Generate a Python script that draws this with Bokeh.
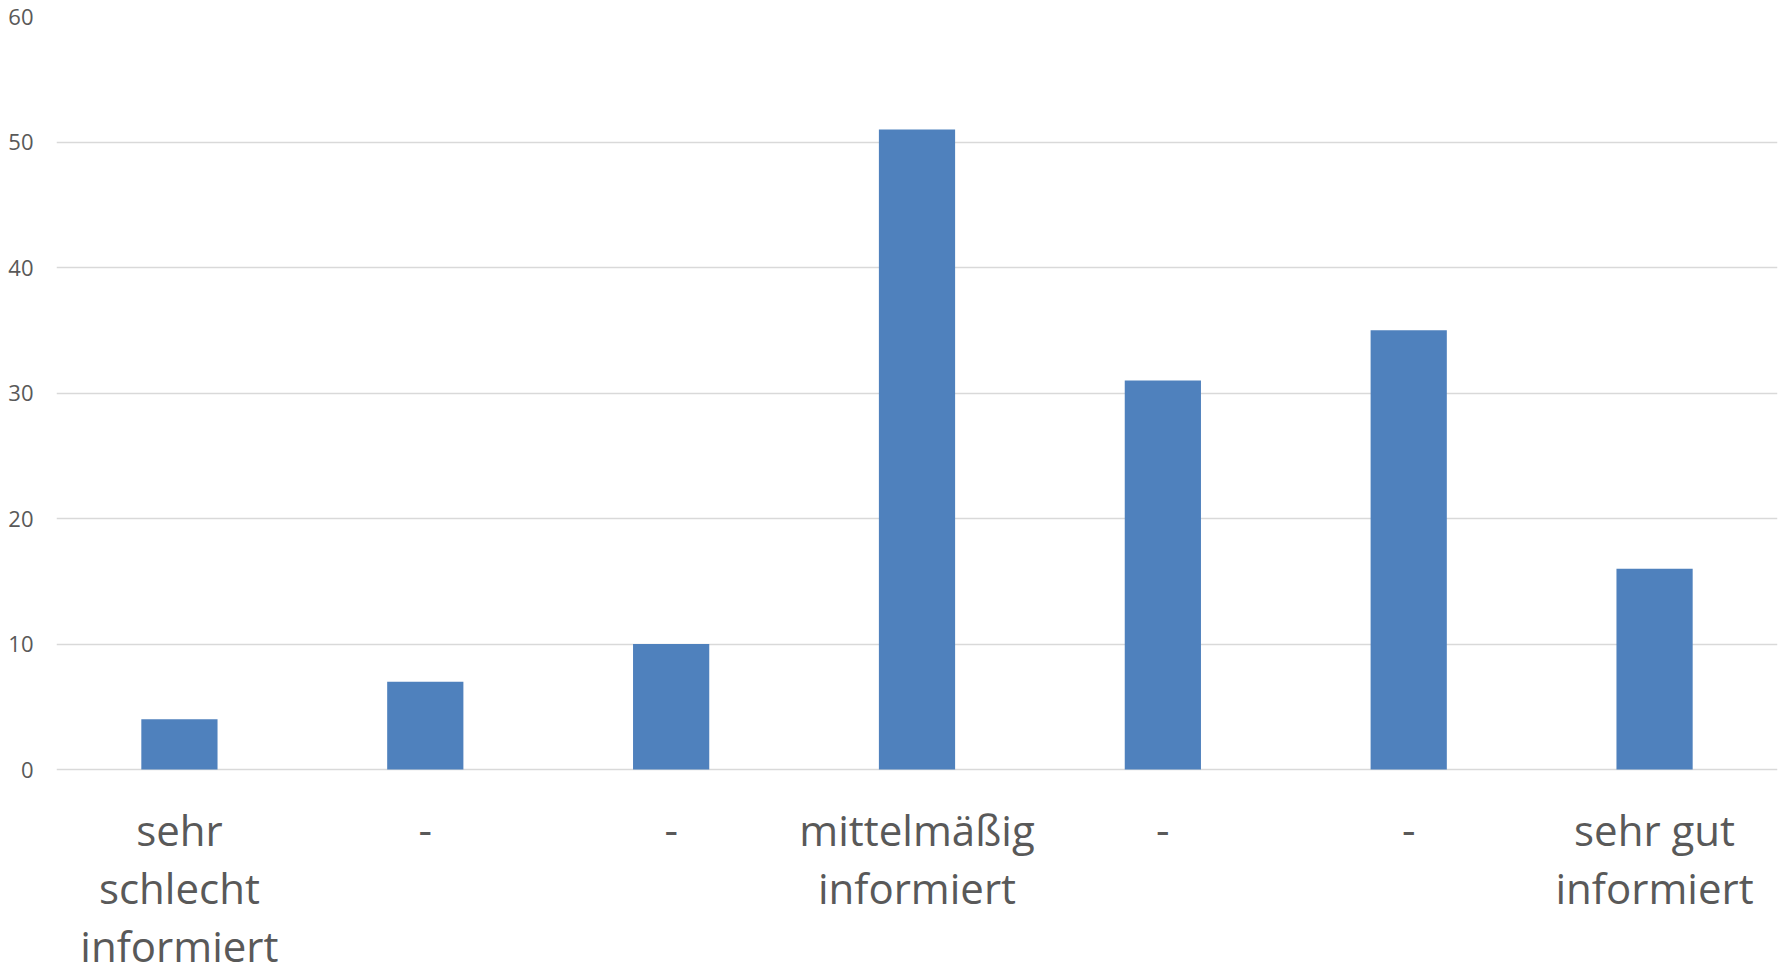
from bokeh.plotting import figure
from bokeh.models import Range1d, FixedTicker, ColumnDataSource
from bokeh.core.properties import value
from bokeh.embed import file_html
from bokeh.resources import INLINE

# Survey: how well informed respondents feel (7-point scale)
categories = ["sehr\nschlecht\ninformiert", "-", "-", "mittelmäßig\ninformiert", "-", "-", "sehr gut\ninformiert"]
counts = [4, 7, 10, 51, 31, 35, 16]
y_ticks = [0, 10, 20, 30, 40, 50, 60]

positions = list(range(len(categories)))
source = ColumnDataSource(data=dict(x=positions, top=counts))

# vertical layout (pixels): plot top, zero line, canvas bottom
H = 968
top_px, zero_px = 16, 769
y_max = 60
px_per_unit = (zero_px - top_px) / y_max
y_min = -(H - zero_px) / px_per_unit  # room below zero for the category names

p = figure(
    width=1781, height=H,
    output_backend="svg", toolbar_location=None,
    x_range=Range1d(-0.5, len(categories) - 0.5),
    y_range=Range1d(y_min, y_max),
    min_border_left=56, min_border_right=4, min_border_top=top_px, min_border_bottom=0,
)
p.outline_line_color = None
p.background_fill_color = "white"
p.border_fill_color = "white"

p.vbar(x="x", top="top", width=0.31, bottom=0, source=source,
       fill_color="#4f81bd", line_color=None)

# y axis: labels only, ticks 0..60
p.yaxis.ticker = FixedTicker(ticks=y_ticks)
p.yaxis.axis_line_color = None
p.yaxis.major_tick_line_color = None
p.yaxis.minor_tick_line_color = None
p.yaxis.major_label_text_font = "Open Sans"
p.yaxis.major_label_text_font_size = "22px"
p.yaxis.major_label_text_color = "#595959"
p.yaxis.major_label_standoff = 17

p.xaxis.visible = False
p.xgrid.grid_line_color = None
p.ygrid.grid_line_color = "#d9d9d9"
p.ygrid.grid_line_width = 1.5

# category names under each bar, one row per wrapped line
first_baseline_px, line_step_px = 60, 58
lx, ly, lt = [], [], []
for x, cat in zip(positions, categories):
    for i, line in enumerate(cat.split("\n")):
        lx.append(x)
        ly.append(-(first_baseline_px + i * line_step_px) / px_per_unit)
        lt.append(line)
label_source = ColumnDataSource(data=dict(x=lx, y=ly, text=lt))
p.text(x="x", y="y", text="text", source=label_source,
       text_align="center", text_baseline="alphabetic",
       text_font=value("Open Sans"), text_font_size="42px", text_color="#595959")

open("out.html", "w").write(file_html(p, INLINE))
